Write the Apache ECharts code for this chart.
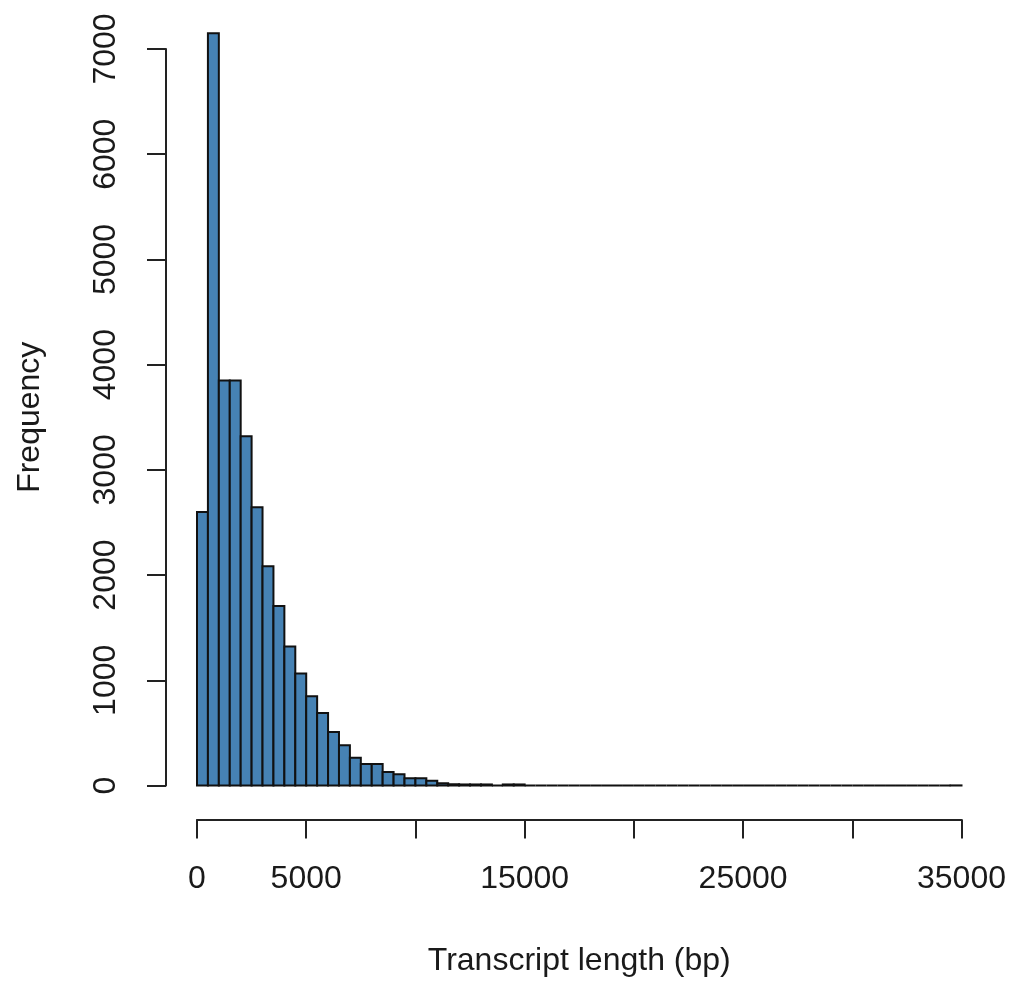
<!DOCTYPE html>
<html>
<head>
<meta charset="utf-8">
<script src="https://cdn.jsdelivr.net/npm/echarts@6/dist/echarts.min.js"></script>
<style>
html,body{margin:0;padding:0;background:#fff;}
#chart{width:1013px;height:987px;}
</style>
</head>
<body>
<div id="chart"></div>
<script>
// Histogram of transcript lengths, bins of 500 bp from 0 to 35000
var binWidth = 500;
var binStarts = [];
for (var i = 0; i < 70; i++) binStarts.push(i * binWidth);
var counts = [
  2600, 7150, 3850, 3850, 3320, 2645, 2085, 1705, 1322, 1065,
  848, 690, 508, 382, 264, 205, 205, 128, 108, 70,
  70, 46, 22, 12, 10, 10, 10, 0, 10, 10,
  0, 0, 0, 0, 0, 0, 0, 0, 0, 0,
  0, 0, 0, 0, 0, 0, 0, 0, 0, 0,
  0, 0, 0, 0, 0, 0, 0, 0, 0, 0,
  0, 0, 0, 0, 0, 0, 0, 0, 0, 1
];
var xTickLabels = ['0', '5000', '', '15000', '', '25000', '', '35000'];
var yTickLabels = ['0', '1000', '2000', '3000', '4000', '5000', '6000', '7000'];
var xTitle = 'Transcript length (bp)';
var yTitle = 'Frequency';

var data = binStarts.map(function (s, i) { return [s, s + binWidth, counts[i]]; });

var font = '"Liberation Sans", Arial, sans-serif';
var chart = echarts.init(document.getElementById('chart'), null, {renderer: 'canvas'});
chart.setOption({
  backgroundColor: '#ffffff',
  animation: false,
  grid: {left: 197, top: 49, width: 764.5, height: 736.5, containLabel: false},
  xAxis: {
    type: 'value', min: 0, max: 35000, interval: 5000, offset: 34,
    name: xTitle, nameLocation: 'middle', nameGap: 126,
    nameTextStyle: {fontFamily: font, fontSize: 32, color: '#1a1a1a'},
    axisLine: {show: true, onZero: false, lineStyle: {color: '#222', width: 2}},
    axisTick: {show: true, length: 19, lineStyle: {color: '#222', width: 2}},
    axisLabel: {
      show: true, margin: 44, fontFamily: font, fontSize: 32, color: '#1a1a1a',
      showMinLabel: true, showMaxLabel: true,
      formatter: function (v) { return xTickLabels[Math.round(v / 5000)]; }
    },
    splitLine: {show: false}
  },
  yAxis: {
    type: 'value', min: 0, max: 7000, interval: 1000, offset: 31,
    name: yTitle, nameLocation: 'middle', nameGap: 120, nameRotate: 90,
    nameTextStyle: {fontFamily: font, fontSize: 32, color: '#1a1a1a'},
    axisLine: {show: true, onZero: false, lineStyle: {color: '#222', width: 2}},
    axisTick: {show: true, length: 19, lineStyle: {color: '#222', width: 2}},
    axisLabel: {
      show: true, rotate: 90, margin: 44, fontFamily: font, fontSize: 32, color: '#1a1a1a',
      showMinLabel: true, showMaxLabel: true,
      formatter: function (v) { return yTickLabels[Math.round(v / 1000)]; }
    },
    splitLine: {show: false}
  },
  series: [{
    type: 'custom',
    clip: false,
    data: data,
    encode: {x: [0, 1], y: 2},
    renderItem: function (params, api) {
      var p0 = api.coord([api.value(0), api.value(2)]);
      var p1 = api.coord([api.value(1), 0]);
      return {
        type: 'rect',
        shape: {x: p0[0], y: p0[1], width: p1[0] - p0[0], height: p1[1] - p0[1]},
        style: {fill: '#4682B4', stroke: '#111', lineWidth: 2}
      };
    }
  }]
});
</script>
</body>
</html>
